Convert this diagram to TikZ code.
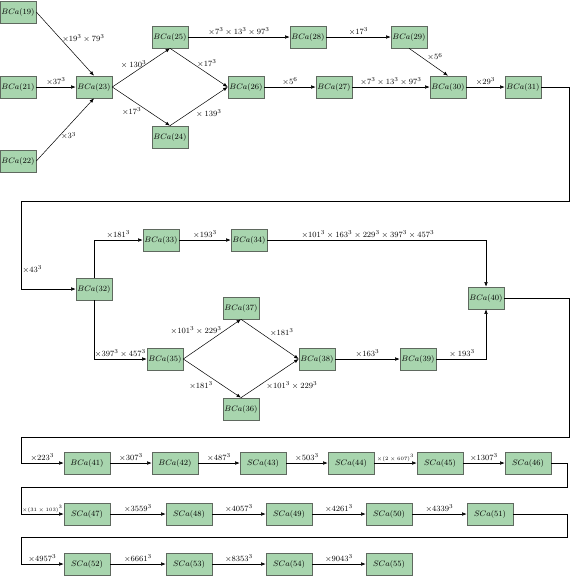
\documentclass[tikz,border=0pt]{standalone}
\usetikzlibrary{arrows.meta}
\definecolor{boxgreen}{RGB}{168,213,174}
\definecolor{boxedge}{RGB}{95,105,95}
\begin{document}
\begin{tikzpicture}[x=1pt,y=-1pt,
  bx/.style={draw=boxedge, fill=boxgreen, line width=0.6pt, minimum width=36pt, minimum height=22pt, inner sep=0pt, font=\fontsize{8.5}{10}\selectfont},
  wbx/.style={bx, minimum width=46pt},
  con/.style={-{Latex[length=4.5pt,width=3.5pt]}, line width=0.5pt},
  lbl/.style={font=\fontsize{8}{9}\selectfont, inner sep=1.5pt},
  tny/.style={font=\fontsize{5.5}{6}\selectfont, inner sep=1.5pt}]
\useasboundingbox (0,0) rectangle (570,576);
% top block
\node[bx] (n19) at (18,12) {$BCa(19)$};
\node[bx] (n21) at (18,87) {$BCa(21)$};
\node[bx] (n22) at (18,161) {$BCa(22)$};
\node[bx] (n23) at (94,87) {$BCa(23)$};
\node[bx] (n25) at (170,37) {$BCa(25)$};
\node[bx] (n24) at (170,137) {$BCa(24)$};
\node[bx] (n26) at (246,87) {$BCa(26)$};
\node[bx] (n28) at (308,37) {$BCa(28)$};
\node[bx] (n29) at (409,37) {$BCa(29)$};
\node[bx] (n27) at (334,87) {$BCa(27)$};
\node[bx] (n30) at (448,87) {$BCa(30)$};
\node[bx] (n31) at (523,87) {$BCa(31)$};
% middle block
\node[bx] (n32) at (94,289) {$BCa(32)$};
\node[bx] (n33) at (161,240) {$BCa(33)$};
\node[bx] (n34) at (249,240) {$BCa(34)$};
\node[bx] (n40) at (486,298) {$BCa(40)$};
\node[bx] (n37) at (241,308) {$BCa(37)$};
\node[bx] (n35) at (165,359) {$BCa(35)$};
\node[bx] (n36) at (241,409) {$BCa(36)$};
\node[bx] (n38) at (317,359) {$BCa(38)$};
\node[bx] (n39) at (418,359) {$BCa(39)$};
% rows
\node[wbx] (n41) at (87,463) {$BCa(41)$};
\node[wbx] (n42) at (175,463) {$BCa(42)$};
\node[wbx] (n43) at (263,463) {$SCa(43)$};
\node[wbx] (n44) at (351,463) {$SCa(44)$};
\node[wbx] (n45) at (440,463) {$SCa(45)$};
\node[wbx] (n46) at (528,463) {$SCa(46)$};
\node[wbx] (n47) at (87,514) {$SCa(47)$};
\node[wbx] (n48) at (189,514) {$SCa(48)$};
\node[wbx] (n49) at (289,514) {$SCa(49)$};
\node[wbx] (n50) at (389,514) {$SCa(50)$};
\node[wbx] (n51) at (490,514) {$SCa(51)$};
\node[wbx] (n52) at (87,564) {$SCa(52)$};
\node[wbx] (n53) at (189,564) {$SCa(53)$};
\node[wbx] (n54) at (289,564) {$SCa(54)$};
\node[wbx] (n55) at (389,564) {$SCa(55)$};
% bend points
\coordinate (r1) at (569,201);
\coordinate (l1) at (21,201);
\coordinate (r2) at (569,437);
\coordinate (l2) at (21,437);
\coordinate (r3) at (567,487);
\coordinate (l3) at (21,487);
\coordinate (r4) at (567,537);
\coordinate (l4) at (21,537);
% connectors top
\draw[con] (n19.east) -- node[lbl,pos=0.42,right]{$\times19^3\times79^3$} (n23.north);
\draw[con] (n21) -- node[lbl,above]{$\times37^3$} (n23);
\draw[con] (n22.east) -- node[lbl,pos=0.4,right]{$\times3^3$} (n23.south);
\draw[con] (n23.east) -- node[lbl,xshift=-8.5pt,yshift=3.5pt]{${}\times130^3$} (n25.south);
\draw[con] (n23.east) -- node[lbl,xshift=-9.5pt,yshift=-5.5pt]{$\times17^3$} (n24.north);
\draw[con] (n25.south) -- node[lbl,xshift=8pt,yshift=4.5pt]{$\times17^3$} (n26.west);
\draw[con] (n24.north) -- node[lbl,xshift=9pt,yshift=-7.5pt]{${}\times139^3$} (n26.west);
\draw[con] (n25) -- node[lbl,above]{$\times7^3\times13^3\times97^3$} (n28);
\draw[con] (n28) -- node[lbl,above]{$\times17^3$} (n29);
\draw[con] (n26) -- node[lbl,above]{$\times5^6$} (n27);
\draw[con] (n27) -- node[lbl,above]{$\times7^3\times13^3\times97^3$} (n30);
\draw[con] (n29.south) -- node[lbl,xshift=6.5pt,yshift=5pt]{$\times5^6$} (n30.north);
\draw[con] (n30) -- node[lbl,above]{$\times29^3$} (n31);
\draw[con] (n31.east) -| (r1) -- (l1) |- node[lbl,pos=0.39,right]{$\times43^3$} (n32.west);
% connectors middle
\draw[con] (n32.north) |- node[lbl,pos=0.75,above]{$\times181^3$} (n33.west);
\draw[con] (n32.south) |- node[lbl,pos=0.75,above]{$\times397^3\times457^3$} (n35.west);
\draw[con] (n33) -- node[lbl,above]{$\times193^3$} (n34);
\draw[con] (n34.east) -| node[lbl,pos=0.23,above]{$\times101^3\times163^3\times229^3\times397^3\times457^3$} (n40.north);
\draw[con] (n35.east) -- node[lbl,xshift=-16pt,yshift=8.5pt]{$\times101^3\times229^3$} (n37.south);
\draw[con] (n35.east) -- node[lbl,xshift=-11pt,yshift=-7.5pt]{$\times181^3$} (n36.north);
\draw[con] (n37.south) -- node[lbl,xshift=12pt,yshift=6.5pt]{$\times181^3$} (n38.west);
\draw[con] (n36.north) -- node[lbl,xshift=22pt,yshift=-7.5pt]{$\times101^3\times229^3$} (n38.west);
\draw[con] (n38) -- node[lbl,above]{$\times163^3$} (n39);
\draw[con] (n39.east) -| node[lbl,pos=0.25,above]{${}\times193^3$} (n40.south);
\draw[con] (n40.east) -| (r2) -- (l2) |- node[lbl,pos=0.75,above]{$\times223^3$} (n41.west);
% row 41
\draw[con] (n41) -- node[lbl,above]{$\times307^3$} (n42);
\draw[con] (n42) -- node[lbl,above]{$\times487^3$} (n43);
\draw[con] (n43) -- node[lbl,above]{$\times503^3$} (n44);
\draw[con] (n44) -- node[tny,above]{$\times(2\times607)^3$} (n45);
\draw[con] (n45) -- node[lbl,above]{$\times1307^3$} (n46);
\draw[con] (n46.east) -| (r3) -- (l3) |- node[tny,pos=0.75,above]{$\times(31\times103)^3$} (n47.west);
% row 47
\draw[con] (n47) -- node[lbl,above]{$\times3559^3$} (n48);
\draw[con] (n48) -- node[lbl,above]{$\times4057^3$} (n49);
\draw[con] (n49) -- node[lbl,above]{$\times4261^3$} (n50);
\draw[con] (n50) -- node[lbl,above]{$\times4339^3$} (n51);
\draw[con] (n51.east) -| (r4) -- (l4) |- node[lbl,pos=0.75,above]{$\times4957^3$} (n52.west);
% row 52
\draw[con] (n52) -- node[lbl,above]{$\times6661^3$} (n53);
\draw[con] (n53) -- node[lbl,above]{$\times8353^3$} (n54);
\draw[con] (n54) -- node[lbl,above]{$\times9043^3$} (n55);
\end{tikzpicture}
\end{document}
